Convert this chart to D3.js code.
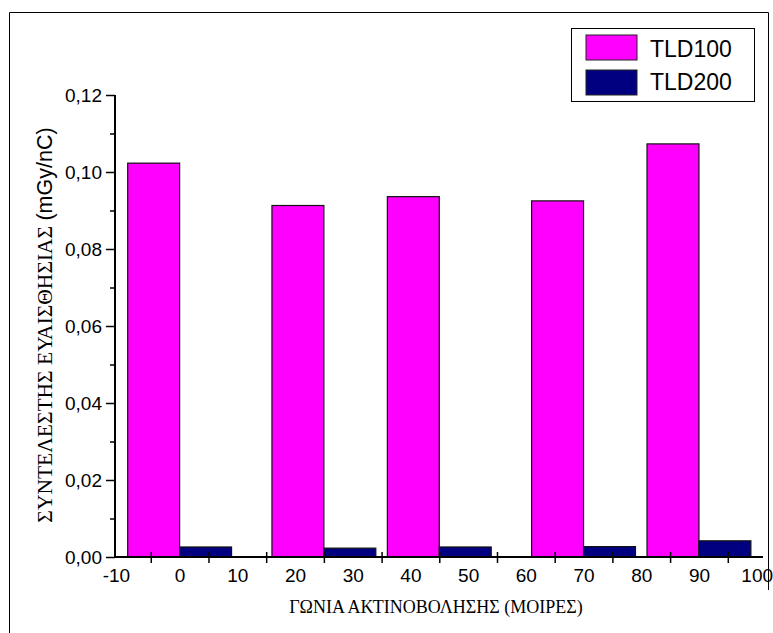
<!DOCTYPE html>
<html>
<head>
<meta charset="utf-8">
<script src="https://cdn.jsdelivr.net/npm/d3@7"></script>
<style>
  body { margin: 0; background: #fff; }
  svg text { fill: #000; }
  .sans { font-family: Arial, "Liberation Sans", sans-serif; }
  .serif { font-family: "Times New Roman", "Liberation Serif", serif; }
</style>
</head>
<body>
<svg id="chart" width="773" height="633"></svg>
<script>
const angles = [0, 25, 45, 70, 90];
const tld100 = [0.1023, 0.0913, 0.0936, 0.0925, 0.1073];
const tld200 = [0.0026, 0.0023, 0.0026, 0.0027, 0.0042];
const seriesNames = ['TLD100', 'TLD200'];
const seriesColors = ['#ff00ff', '#000080'];
const xLabelValues = [-10, 0, 10, 20, 30, 40, 50, 60, 70, 80, 90, 100];
const xTickValues = [-5, 5, 15, 25, 35, 45, 55, 65, 75, 85, 95];
const yMajor = [0, 0.02, 0.04, 0.06, 0.08, 0.10, 0.12];
const yMinor = [0.01, 0.03, 0.05, 0.07, 0.09, 0.11];
const barWidth = 9;

const svg = d3.select('#chart');

// outer frame
svg.append('path')
    .attr('d', 'M9.5,640 V12.5 H768.5 V590')
    .attr('fill', 'none')
    .attr('stroke', '#000')
    .attr('stroke-width', 1);

const x = d3.scaleLinear().domain([-11.2, 101.1]).range([115, 763]);
const y = d3.scaleLinear().domain([0, 0.12]).range([557, 95]);

const fmt = d => d3.format('.2f')(d).replace('.', ',');

// bars
const rows = angles.map((a, i) => ({ a, v1: tld100[i], v2: tld200[i] }));
const g = svg.append('g');
g.selectAll('.b1').data(rows).enter().append('rect')
    .attr('x', d => x(d.a - barWidth))
    .attr('width', d => x(d.a) - x(d.a - barWidth))
    .attr('y', d => y(d.v1))
    .attr('height', d => y(0) - y(d.v1))
    .attr('fill', seriesColors[0])
    .attr('stroke', '#111').attr('stroke-width', 1.2);
g.selectAll('.b2').data(rows).enter().append('rect')
    .attr('x', d => x(d.a))
    .attr('width', d => x(d.a + barWidth) - x(d.a))
    .attr('y', d => y(d.v2))
    .attr('height', d => y(0) - y(d.v2))
    .attr('fill', seriesColors[1])
    .attr('stroke', '#111').attr('stroke-width', 1.2);

// y axis
const yAxis = svg.append('g')
    .attr('transform', 'translate(115,0)')
    .call(d3.axisLeft(y).tickValues(yMajor).tickFormat(fmt).tickSize(9).tickPadding(4));
yAxis.select('.domain').attr('stroke-width', 2).attr('d', `M0,${y(0.12)}V${y(0)}`);
yAxis.selectAll('.tick line').attr('stroke-width', 1.5);
yAxis.selectAll('text').attr('class', 'sans').attr('font-size', 19);

svg.append('g')
    .attr('transform', 'translate(115,0)')
    .call(d3.axisLeft(y).tickValues(yMinor).tickFormat('').tickSize(5))
    .call(s => s.select('.domain').remove())
    .selectAll('.tick line').attr('stroke-width', 1.5);

// x axis
const xAxis = svg.append('g')
    .attr('transform', `translate(0,${y(0)})`)
    .call(d3.axisBottom(x).tickValues(xTickValues).tickFormat('').tickSize(6));
xAxis.select('.domain').attr('stroke-width', 2).attr('d', `M${x(-11.2)},0H${x(101.1)}`);
xAxis.selectAll('.tick line').attr('y1', -5).attr('stroke-width', 1.5);

svg.append('g')
    .attr('transform', `translate(0,${y(0)})`)
    .call(d3.axisBottom(x).tickValues(xLabelValues).tickFormat(d => String(d)).tickSize(0).tickPadding(12))
    .call(s => s.select('.domain').remove())
    .selectAll('text').attr('class', 'sans').attr('font-size', 19)
    .attr('dx', d => d < 0 ? -6 : 0);

// axis titles
svg.append('text')
    .attr('class', 'serif')
    .attr('x', 436).attr('y', 613)
    .attr('text-anchor', 'middle')
    .attr('font-size', 18)
    .text('ΓΩΝΙΑ ΑΚΤΙΝΟΒΟΛΗΣΗΣ (ΜΟΙΡΕΣ)');

const yt = svg.append('text')
    .attr('transform', 'translate(52,325) rotate(-90)')
    .attr('text-anchor', 'middle')
    .attr('font-size', 21.5);
yt.append('tspan').attr('class', 'serif').text('ΣΥΝΤΕΛΕΣΤΗΣ ΕΥΑΙΣΘΗΣΙΑΣ ');
yt.append('tspan').attr('class', 'sans').text('(mGy/nC)');

// legend
const lg = svg.append('g');
lg.append('rect')
    .attr('x', 571.5).attr('y', 28.5).attr('width', 183).attr('height', 73)
    .attr('fill', '#fff').attr('stroke', '#000');
seriesNames.forEach((n, i) => {
    lg.append('rect')
        .attr('x', 586).attr('y', 35 + i * 35).attr('width', 51).attr('height', 25)
        .attr('fill', seriesColors[i]).attr('stroke', '#222');
    lg.append('text')
        .attr('class', 'sans')
        .attr('x', 650).attr('y', 57 + i * 33)
        .attr('font-size', 23)
        .text(n);
});
</script>
</body>
</html>
